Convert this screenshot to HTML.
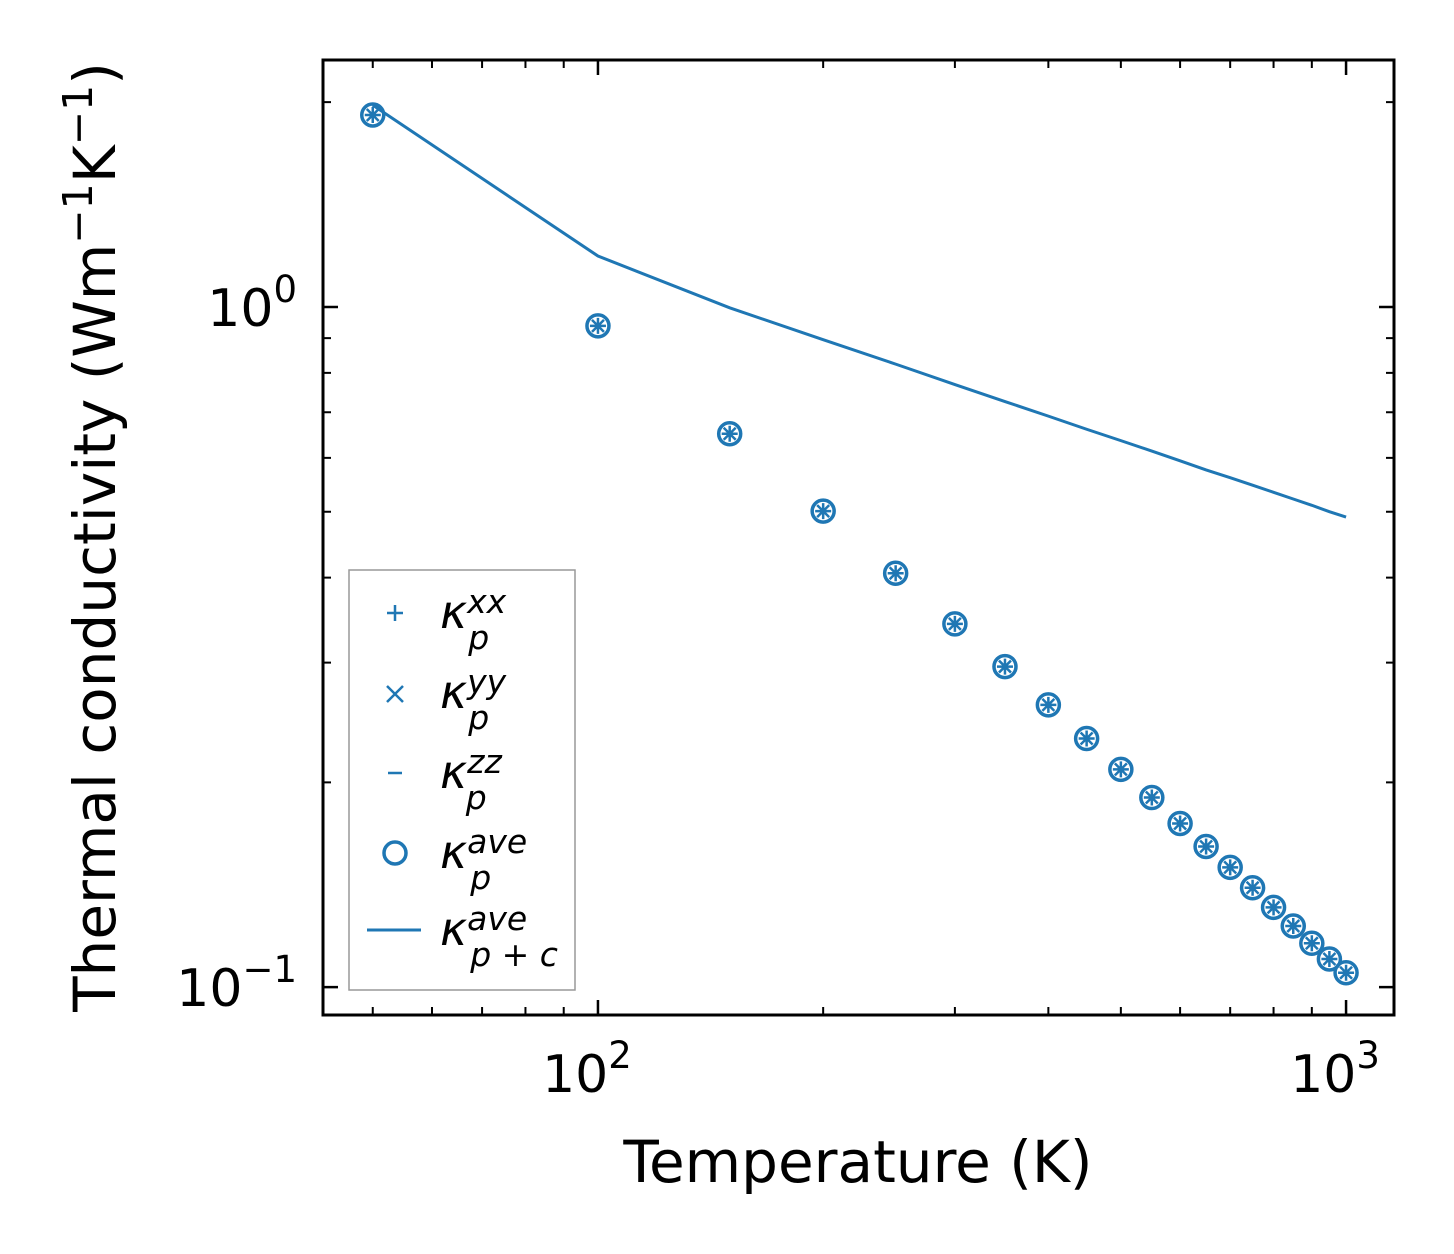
<!DOCTYPE html>
<html><head><meta charset="utf-8"><style>
body{margin:0;background:#fff}
svg{display:block;font-family:"DejaVu Sans","Liberation Sans",sans-serif}
</style></head><body>
<svg id="chart" width="1454" height="1254" viewBox="0 0 1454 1254" xmlns="http://www.w3.org/2000/svg">
<rect width="1454" height="1254" fill="#fff"/>
<g id="plot"></g>
<text x="858" y="1182" font-size="58" text-anchor="middle">Temperature (K)</text>
<text transform="translate(115,537) rotate(-90)" font-size="58" text-anchor="middle">Thermal conductivity (Wm<tspan dy="-23" font-size="41">−1</tspan><tspan dy="23">K</tspan><tspan dy="-23" font-size="41">−1</tspan><tspan dy="23">)</tspan></text>
<g>
<rect x="349" y="570" width="226" height="420" fill="#fff" stroke="#999" stroke-width="1.5"/>
<g stroke="#1f77b4" stroke-width="2.5" fill="none">
<path d="M387 613h16M395 605v16"/>
<path d="M387 686l16 16M403 686l-16 16"/>
<path d="M388 773h14"/>
<circle cx="395" cy="853" r="11" stroke-width="3.5"/>
<path d="M367 930h54" stroke-width="3"/>
</g>
<g font-size="46" font-style="italic" font-family="DejaVu Sans,sans-serif">
<text x="440" y="628">κ<tspan font-size="33" dy="-15">xx</tspan><tspan font-size="33" dx="-38" dy="36">p</tspan></text>
<text x="440" y="708">κ<tspan font-size="33" dy="-15">yy</tspan><tspan font-size="33" dx="-38" dy="36">p</tspan></text>
<text x="440" y="788">κ<tspan font-size="33" dy="-15">zz</tspan><tspan font-size="33" dx="-36" dy="36">p</tspan></text>
<text x="440" y="868">κ<tspan font-size="33" dy="-15">ave</tspan><tspan font-size="33" dx="-57" dy="36">p</tspan></text>
<text x="440" y="945">κ<tspan font-size="33" dy="-15">ave</tspan><tspan font-size="33" dx="-57" dy="36">p + c</tspan></text>
</g>
</g>
</svg>
<script>
const temps=[50,100,150,200,250,300,350,400,450,500,550,600,650,700,750,800,850,900,950,1000];
const kappaP=[1.915,0.938,0.651,0.501,0.406,0.342,0.296,0.260,0.232,0.209,0.190,0.174,0.161,0.150,0.140,0.131,0.123,0.116,0.110,0.105];
const kappaPC=[1.98,1.188,0.997,0.895,0.824,0.769,0.726,0.691,0.661,0.636,0.614,0.594,0.576,0.561,0.547,0.534,0.522,0.511,0.500,0.491];
const xMajor=[100,1000];const xMajorLabels=["2","3"];
const yMajor=[0.1,1];const yMajorLabels=["−1","0"];
const xMinor=[50,60,70,80,90,200,300,400,500,600,700,800,900];
const yMinor=[0.2,0.3,0.4,0.5,0.6,0.7,0.8,0.9,2];
const L=323,R=1394,T=60,B=1015;
const xMin=Math.log10(42.9),xMax=Math.log10(1159),yMin=Math.log10(0.0910),yMax=Math.log10(2.307);
const xs=v=>L+(Math.log10(v)-xMin)/(xMax-xMin)*(R-L);
const ys=v=>B-(Math.log10(v)-yMin)/(yMax-yMin)*(B-T);
const NS="http://www.w3.org/2000/svg";
const g=document.getElementById('plot');
function mk(t,a,p){const e=document.createElementNS(NS,t);for(const k in a)e.setAttribute(k,a[k]);(p||g).appendChild(e);return e;}
const C="#1f77b4";
const line=mk('polyline',{points:temps.map((t,i)=>xs(t)+','+ys(kappaPC[i])).join(' '),fill:'none',stroke:C,'stroke-width':3});


temps.forEach((t,i)=>{
 const x=xs(t),y=ys(kappaP[i]);
 const m=mk('g',{stroke:C,fill:'none'});
 
 
 mk('circle',{cx:x,cy:y,r:11,'stroke-width':3.5},m);
 mk('path',{d:`M${x-8} ${y}h16M${x} ${y-8}v16M${x-6} ${y-6}l12 12M${x+6} ${y-6}l-12 12`,'stroke-width':2.5},m);
});
const tk=mk('g',{stroke:'#000','stroke-width':2.5});


xMajor.forEach(v=>{const x=xs(v);mk('path',{d:`M${x} ${B}v-15M${x} ${T}v15`},tk);});
xMinor.forEach(v=>{const x=xs(v);mk('path',{d:`M${x} ${B}v-8M${x} ${T}v8`,'stroke-width':2},tk);});
yMajor.forEach(v=>{const y=ys(v);mk('path',{d:`M${L} ${y}h15M${R} ${y}h-15`},tk);});
yMinor.forEach(v=>{const y=ys(v);mk('path',{d:`M${L} ${y}h8M${R} ${y}h-8`,'stroke-width':2},tk);});
const fr=mk('rect',{x:L,y:T,width:R-L,height:B-T,fill:'none',stroke:'#000','stroke-width':3});


xMajor.forEach((v,i)=>{
 const t=mk('text',{x:xs(v)-11,y:1092,'font-size':52,'text-anchor':'middle'});
 
 
 t.innerHTML='10<tspan dy="-24" font-size="37">'+xMajorLabels[i]+'</tspan>';
});
yMajor.forEach((v,i)=>{
 const t=mk('text',{x:297,y:ys(v)+19,'font-size':52,'text-anchor':'end'});
 
 
 t.innerHTML='10<tspan dy="-24" font-size="37">'+yMajorLabels[i]+'</tspan>';
});
</script>
</body></html>
